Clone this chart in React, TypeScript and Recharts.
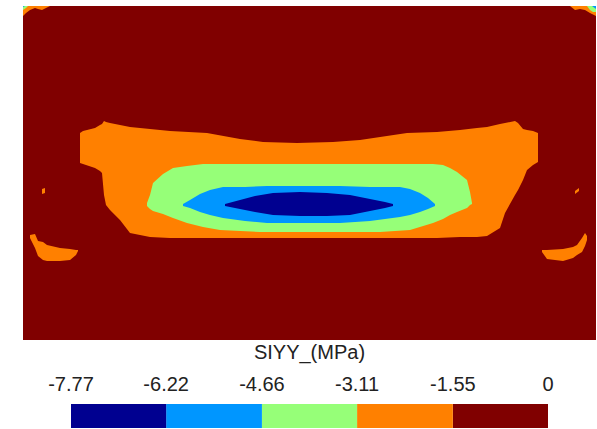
import React from 'react';
import { ComposedChart, Area, XAxis, YAxis, BarChart, Bar } from 'recharts';

// Contour levels of SIYY (MPa) and the band colours (lowest -> highest)
const LEVELS = [-7.77, -6.22, -4.66, -3.11, -1.55, 0];
const BAND_COLORS = ['#000090', '#0096FF', '#96FF78', '#FF8000', '#800000'];
const TITLE = 'SIYY_(MPa)';

// Field extent (horizontal coordinate, depth coordinate)
const FIELD_X = [23, 596];
const FIELD_Z = [6, 340];

// Contour band outlines: [x, upper z, lower z]
const BAND_0_FIELD: [number, number, number][] = [
  [23, 6, 340], [596, 6, 340],
];

const BAND_1_MAIN: [number, number, number][] = [
  [80, 133, 163], [83, 131, 164], [95, 128, 168], [100, 125, 171], [102, 124, 173],
  [104, 121, 195], [106, 122, 205], [110, 123, 210], [120, 125, 220], [130, 127, 233],
  [140, 128, 235], [150, 129, 237], [170, 131, 238], [207, 133, 238], [240, 139, 238],
  [263, 142, 238], [297, 143, 238], [333, 142, 238], [360, 140, 238], [407, 133, 238],
  [437, 132, 238], [460, 130, 237], [477, 128, 237], [487, 127, 236], [500, 124, 228],
  [505, 123, 213], [515, 121, 195], [518, 123, 190], [523, 129, 180], [527, 130, 170],
  [533, 131, 165], [538, 133, 162],
];
const BAND_1_LEFT: [number, number, number][] = [
  [30, 235, 238], [35, 234, 248], [38, 241, 256], [43, 242, 260], [47, 245, 261],
  [60, 248, 261], [70, 249, 260], [76, 250, 255], [78, 250, 251],
];
const BAND_1_RIGHT: [number, number, number][] = [
  [542, 250, 252], [547, 250, 259], [563, 249, 261], [573, 247, 258], [577, 245, 255],
  [582, 238, 252], [585, 233, 246], [587, 236, 240],
];
const BAND_1_SPECK_L: [number, number, number][] = [[42, 189, 194], [45, 188, 193]];
const BAND_1_SPECK_R: [number, number, number][] = [[575, 191, 194], [579, 188, 191]];
const BAND_1_TOP_L: [number, number, number][] = [
  [23, 6, 16], [26, 6, 13], [30, 6, 10], [35, 6, 8], [38, 6, 9], [42, 6, 10], [46, 6, 8], [50, 6, 6],
];
const BAND_1_TOP_R: [number, number, number][] = [
  [570, 6, 6], [575, 6, 10], [580, 6, 9], [585, 6, 10], [590, 6, 13], [596, 6, 16],
];

const BAND_2_MAIN: [number, number, number][] = [
  [147, 203, 206], [150, 195, 209], [153, 183, 211], [163, 174, 214], [173, 168, 218],
  [187, 166, 223], [203, 164, 227], [220, 164, 230], [260, 164, 232], [300, 164, 232],
  [340, 164, 232], [380, 164, 232], [410, 164, 230], [433, 164, 223], [443, 165, 219],
  [450, 168, 215], [457, 172, 212], [467, 180, 208], [470, 192, 205], [472, 203, 204],
];
const BAND_2_TOP_L: [number, number, number][] = [[23, 6, 10], [26, 6, 8], [28, 6, 6]];
const BAND_2_TOP_R: [number, number, number][] = [[587, 6, 6], [590, 6, 10], [593, 6, 12], [596, 6, 12]];

const BAND_3_MAIN: [number, number, number][] = [
  [183, 204, 206], [190, 200, 208], [200, 194, 212], [210, 190, 215], [223, 187, 218],
  [245, 187, 221], [267, 186, 223], [300, 186, 223], [340, 186, 223], [370, 187, 221],
  [400, 187, 217], [410, 189, 215], [420, 193, 212], [428, 198, 209], [435, 204, 206],
];
const BAND_3_TOP_L: [number, number, number][] = [[23, 6, 7], [25, 6, 6]];
const BAND_3_TOP_R: [number, number, number][] = [[592, 6, 6], [596, 6, 9]];

const BAND_4_MAIN: [number, number, number][] = [
  [225, 204, 206], [240, 200, 209], [255, 196, 212], [273, 193, 215], [300, 192, 216],
  [327, 193, 216], [350, 195, 215], [370, 199, 211], [385, 202, 208], [393, 204, 206],
];

// band index counted from the top level (0 = highest band, dark red)
const REGIONS: { band: number; pts: [number, number, number][] }[] = [
  { band: 4, pts: BAND_0_FIELD },
  { band: 3, pts: BAND_1_MAIN },
  { band: 3, pts: BAND_1_LEFT },
  { band: 3, pts: BAND_1_RIGHT },
  { band: 3, pts: BAND_1_SPECK_L },
  { band: 3, pts: BAND_1_SPECK_R },
  { band: 3, pts: BAND_1_TOP_L },
  { band: 3, pts: BAND_1_TOP_R },
  { band: 2, pts: BAND_2_MAIN },
  { band: 2, pts: BAND_2_TOP_L },
  { band: 2, pts: BAND_2_TOP_R },
  { band: 1, pts: BAND_3_MAIN },
  { band: 1, pts: BAND_3_TOP_L },
  { band: 1, pts: BAND_3_TOP_R },
  { band: 0, pts: BAND_4_MAIN },
];

const toRows = (pts: [number, number, number][]) => pts.map(([x, a, b]) => ({ x, r: [a, b] }));

// Legend bar row: stacked negative widths from 0 outward
const legendRow: Record<string, any> = { name: 'SIYY' };
for (let i = 0; i < 5; i++) legendRow['b' + i] = LEVELS[i] - LEVELS[i + 1];
const LEGEND_DATA = [legendRow];
const LEGEND_ORDER = [4, 3, 2, 1, 0];

const FONT = '"Liberation Sans", Arial, sans-serif';

export default function App() {
  return (
    <div style={{ position: 'absolute', left: 0, top: 0, width: 597, height: 429, background: '#fff', fontFamily: FONT }}>
      <div style={{ position: 'absolute', left: 0, top: 0 }}>
        <ComposedChart width={597} height={340} margin={{ top: 6, left: 23, right: 1, bottom: 0 }}>
          <XAxis type="number" dataKey="x" domain={FIELD_X} hide allowDataOverflow />
          <YAxis type="number" domain={FIELD_Z} reversed hide allowDataOverflow />
          {REGIONS.map((reg, i) => (
            <Area
              key={i}
              name={'region' + i}
              data={toRows(reg.pts)}
              dataKey="r"
              type="linear"
              stroke="none"
              fill={BAND_COLORS[reg.band]}
              fillOpacity={1}
              dot={false}
              activeDot={false}
              isAnimationActive={false}
            />
          ))}
        </ComposedChart>
      </div>
      <div style={{ position: 'absolute', left: 0, top: 340 }}>
        <BarChart
          width={597}
          height={89}
          data={LEGEND_DATA}
          layout="vertical"
          stackOffset="none"
          barCategoryGap={0}
          margin={{ top: 34, left: 71, right: 49, bottom: 1 }}
          style={{ fontFamily: FONT }}
        >
          <XAxis
            type="number"
            orientation="top"
            domain={[LEVELS[0], LEVELS[5]]}
            ticks={LEVELS}
            interval={0}
            height={30}
            axisLine={false}
            tickLine={false}
            tickMargin={7}
            tick={{ fontSize: 20, fill: '#222', fontFamily: FONT }}
            allowDataOverflow
            label={{ value: TITLE, position: 'top', offset: 15, fontSize: 20, fill: '#222', fontFamily: FONT }}
          />
          <YAxis type="category" dataKey="name" hide />
          {LEGEND_ORDER.map((i) => (
            <Bar key={i} dataKey={'b' + i} stackId="s" fill={BAND_COLORS[i]} isAnimationActive={false} />
          ))}
        </BarChart>
      </div>
    </div>
  );
}
